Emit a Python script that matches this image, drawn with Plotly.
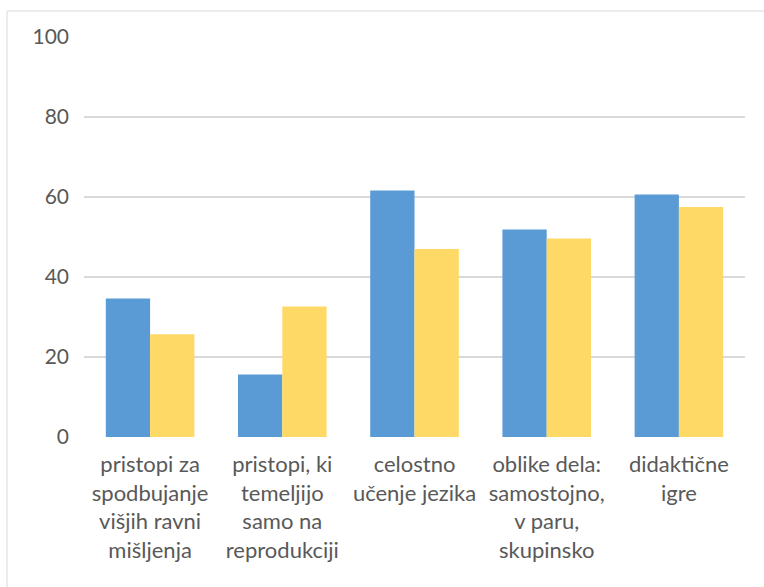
import plotly.graph_objects as go

categories = [
    "pristopi za<br>spodbujanje<br>višjih ravni<br>mišljenja",
    "pristopi, ki<br>temeljijo<br>samo na<br>reprodukciji",
    "celostno<br>učenje jezika",
    "oblike dela:<br>samostojno,<br>v paru,<br>skupinsko",
    "didaktične<br>igre",
]
series_a = [34.6, 15.6, 61.6, 51.9, 60.6]
series_b = [25.7, 32.6, 47.0, 49.6, 57.5]
y_ticks = [0, 20, 40, 60, 80, 100]

W, H = 764, 587
ML, MR, MT, MB = 84, 19, 37, 150
font_family = "Lato, 'Open Sans', sans-serif"
text_color = "#595959"

fig = go.Figure()
fig.add_trace(go.Bar(x=categories, y=series_a, marker_color="#5B9BD5",
                     marker_line_width=0, name="A"))
fig.add_trace(go.Bar(x=categories, y=series_b, marker_color="#FFD966",
                     marker_line_width=0, name="B"))

pw = W - ML - MR
ph = H - MT - MB
fig.update_layout(
    width=W, height=H,
    margin=dict(l=ML, r=MR, t=MT, b=MB, pad=0),
    paper_bgcolor="white", plot_bgcolor="white",
    barmode="group", bargap=0.33, bargroupgap=0,
    showlegend=False,
    font=dict(family=font_family, size=20, color=text_color),
    xaxis=dict(showgrid=False, showline=False, zeroline=False,
               ticks="", tickfont=dict(size=22, color=text_color),
               ticklabelstandoff=12),
    yaxis=dict(range=[0, 100], tickvals=y_ticks, showgrid=True,
               gridcolor="#D9D9D9", gridwidth=1.5, zeroline=False,
               showline=False, ticks="",
               tickfont=dict(size=21, color=text_color),
               ticklabelstandoff=14),
    shapes=[dict(type="rect", xref="paper", yref="paper",
                 x0=(7 - ML) / pw, x1=(W + 10 - ML) / pw,
                 y0=-(H + 10 - MT - ph) / ph, y1=(H - MB - 11) / ph,
                 line=dict(color="#D9D9D9", width=1), layer="below")],
)

fig.write_html("out.html")
